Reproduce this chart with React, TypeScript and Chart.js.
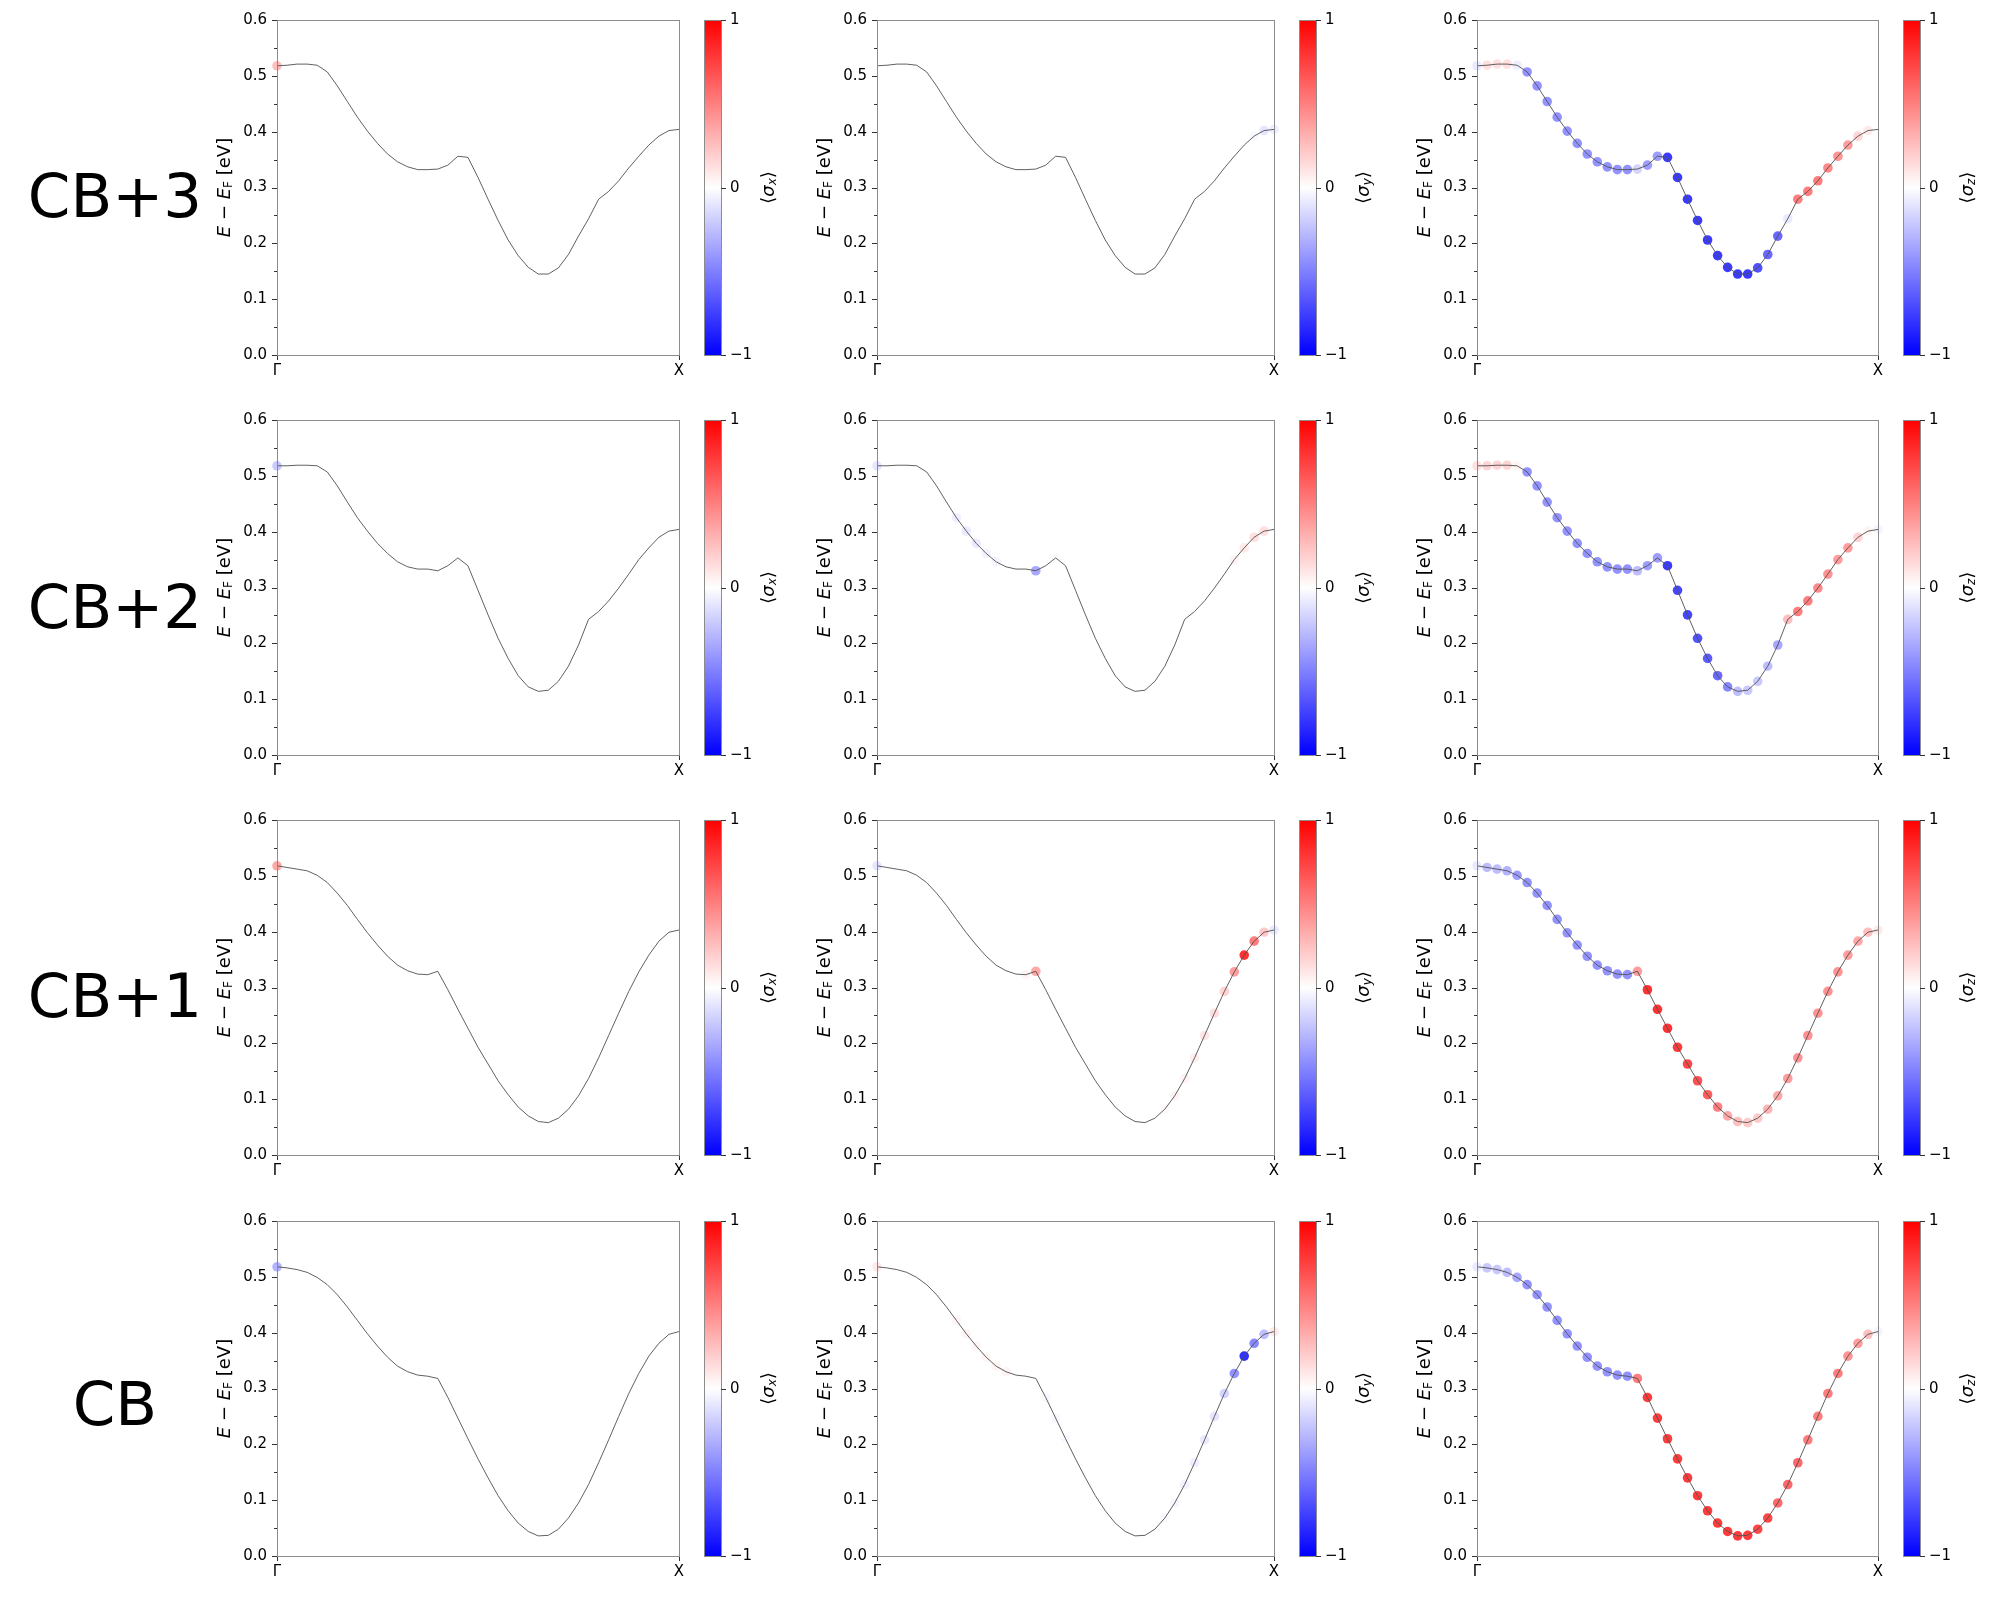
import React, { useEffect, useRef } from 'react';
import Chart from 'chart.js/auto';

// k-point index along the Γ–X path
const kPoints = [
  0, 1, 2, 3, 4, 5, 6, 7, 8, 9, 10, 11, 12, 13, 14, 15, 16, 17, 18, 19, 20,
  21, 22, 23, 24, 25, 26, 27, 28, 29, 30, 31, 32, 33, 34, 35, 36, 37, 38, 39, 40,
];
const xTickLabels = ['Γ', 'X'];
const yMajorTicks = [0, 0.1, 0.2, 0.3, 0.4, 0.5, 0.6];
const yMinorTicks = [0.05, 0.15, 0.25, 0.35, 0.45, 0.55];
const cbTicks = [1, 0, -1];
const rowLabels = ['CB+3', 'CB+2', 'CB+1', 'CB'];
const spinComps = ['x', 'y', 'z'];

// band energies E - E_F [eV]
const energyCB3 = [
  0.518, 0.519, 0.521, 0.521, 0.519, 0.507, 0.482, 0.454, 0.426, 0.401, 0.379,
  0.360, 0.346, 0.337, 0.332, 0.332, 0.333, 0.340, 0.356, 0.354, 0.318, 0.279,
  0.241, 0.206, 0.178, 0.157, 0.145, 0.145, 0.156, 0.180, 0.213, 0.244, 0.279,
  0.293, 0.312, 0.335, 0.356, 0.376, 0.392, 0.402, 0.404,
];
const energyCB2 = [
  0.518, 0.518, 0.519, 0.519, 0.518, 0.507, 0.482, 0.453, 0.425, 0.401, 0.379,
  0.361, 0.346, 0.337, 0.333, 0.333, 0.330, 0.339, 0.353, 0.339, 0.295, 0.251,
  0.209, 0.173, 0.142, 0.122, 0.114, 0.116, 0.132, 0.159, 0.197, 0.243, 0.257,
  0.276, 0.299, 0.324, 0.350, 0.371, 0.390, 0.401, 0.404,
];
const energyCB1 = [
  0.518, 0.515, 0.512, 0.509, 0.501, 0.488, 0.469, 0.447, 0.422, 0.398, 0.376,
  0.356, 0.340, 0.330, 0.324, 0.323, 0.329, 0.296, 0.261, 0.227, 0.193, 0.163,
  0.133, 0.108, 0.086, 0.070, 0.060, 0.058, 0.066, 0.082, 0.106, 0.137, 0.174,
  0.214, 0.254, 0.293, 0.328, 0.358, 0.383, 0.399, 0.403,
];
const energyCB = [
  0.518, 0.516, 0.513, 0.508, 0.499, 0.486, 0.468, 0.446, 0.422, 0.398, 0.376,
  0.356, 0.340, 0.330, 0.324, 0.322, 0.318, 0.284, 0.247, 0.210, 0.174, 0.140,
  0.108, 0.081, 0.059, 0.044, 0.036, 0.037, 0.048, 0.068, 0.095, 0.128, 0.167,
  0.208, 0.250, 0.291, 0.327, 0.358, 0.381, 0.397, 0.402,
];

// spin expectation values <σx>, <σy>, <σz> per k-point
const sxCB3 = [
  0.3, 0, 0, 0, 0, 0, 0, 0, 0, 0, 0, 0, 0, 0, 0, 0, 0, 0, 0, 0, 0,
  0, 0, 0, 0, 0, 0, 0, 0, 0, 0, 0, 0, 0, 0, 0, 0, 0, 0, 0, 0,
];
const syCB3 = [
  0, 0, 0, 0, 0, 0, 0, 0, 0, 0, 0, 0, 0, 0, 0, 0, 0, 0, 0, 0, 0,
  0, 0, 0, 0, 0, 0, 0, 0, 0, 0, 0, 0, 0, 0, 0, 0, 0, -0.03, -0.12, -0.08,
];
const szCB3 = [
  -0.1, 0.15, 0.15, 0.15, -0.08, -0.5, -0.5, -0.5, -0.5, -0.5, -0.5, -0.5,
  -0.5, -0.5, -0.5, -0.5, -0.2, -0.45, -0.45, -0.9, -0.9, -0.9, -0.9, -0.9,
  -0.9, -0.9, -0.9, -0.9, -0.8, -0.7, -0.7, -0.1, 0.6, 0.6, 0.6, 0.55, 0.5,
  0.45, 0.2, 0.1, 0.0,
];

const sxCB2 = [
  -0.25, 0, 0, 0, 0, 0, 0, 0, 0, 0, 0, 0, 0, 0, 0, 0, 0, 0, 0, 0, 0,
  0, 0, 0, 0, 0, 0, 0, 0, 0, 0, 0, 0, 0, 0, 0, 0, 0, 0, 0, 0,
];
const syCB2 = [
  -0.12, 0, 0, 0, 0, 0, 0, 0, -0.08, -0.1, -0.1, -0.06, -0.05, 0, 0, 0, -0.4,
  0, 0.02, 0, 0, 0, 0, 0, 0, 0, 0, 0, 0, 0, 0, 0, 0, 0, 0, 0, 0.05, 0.1, 0.15,
  0.15, 0,
];
const szCB2 = [
  0.15, 0.2, 0.2, 0.2, 0.05, -0.5, -0.5, -0.5, -0.5, -0.5, -0.5, -0.5, -0.5,
  -0.5, -0.5, -0.5, -0.3, -0.45, -0.45, -0.9, -0.85, -0.85, -0.8, -0.75, -0.7,
  -0.55, -0.3, -0.25, -0.25, -0.3, -0.4, 0.3, 0.6, 0.6, 0.55, 0.5, 0.45, 0.45,
  0.2, 0.05, -0.05,
];

const sxCB1 = [
  0.4, 0, 0, 0, 0, 0, 0, 0, 0, 0, 0, 0, 0, 0, 0, 0, 0, 0, 0, 0, 0,
  0, 0, 0, 0, 0, 0, 0, 0, 0, 0, 0, 0, 0, 0, 0, 0, 0, 0, 0, 0,
];
const syCB1 = [
  -0.12, 0, 0, 0, 0, 0, 0, 0, 0, 0, 0, 0, 0, 0, 0, 0.05, 0.4, 0, 0, 0, 0, 0,
  0, 0, 0, 0, 0, 0, 0, 0.03, 0.05, 0.06, 0.08, 0.12, 0.15, 0.2, 0.45, 0.95,
  0.6, 0.25, -0.1,
];
const szCB1 = [
  -0.1, -0.3, -0.3, -0.35, -0.45, -0.5, -0.5, -0.5, -0.5, -0.5, -0.5, -0.5,
  -0.5, -0.5, -0.5, -0.5, 0.45, 0.95, 0.95, 0.95, 0.9, 0.85, 0.8, 0.75, 0.6,
  0.4, 0.3, 0.25, 0.25, 0.35, 0.4, 0.45, 0.5, 0.5, 0.5, 0.5, 0.5, 0.45, 0.4,
  0.3, 0.1,
];

const sxCB = [
  -0.35, 0, 0, 0, 0, 0, 0, 0, 0, 0, 0, 0, 0, 0, 0, 0, 0, 0, 0, 0, 0,
  0, 0, 0, 0, 0, 0, 0, 0, 0, 0, 0, 0, 0, 0, 0, 0, 0, 0, 0, 0,
];
const syCB = [
  0.1, 0, 0, 0, 0, 0, 0, 0, 0.05, 0.05, 0.05, 0.05, 0.05, 0.05, 0, 0, 0,
  -0.03, -0.03, -0.03, 0, 0, 0, 0, 0, 0, 0, 0, 0, -0.03, -0.04, -0.06, -0.08,
  -0.1, -0.12, -0.2, -0.5, -0.95, -0.55, -0.3, 0.1,
];
const szCB = [
  -0.1, -0.25, -0.25, -0.3, -0.4, -0.5, -0.5, -0.5, -0.5, -0.5, -0.5, -0.5,
  -0.5, -0.5, -0.5, -0.5, 0.6, 0.9, 0.9, 0.9, 0.9, 0.9, 0.9, 0.9, 0.9, 0.9,
  0.9, 0.9, 0.85, 0.85, 0.7, 0.7, 0.7, 0.6, 0.6, 0.6, 0.6, 0.5, 0.45, 0.3,
  -0.05,
];

const rowEnergies = [energyCB3, energyCB2, energyCB1, energyCB];
const rowSpins = [
  [sxCB3, syCB3, szCB3],
  [sxCB2, syCB2, szCB2],
  [sxCB1, syCB1, szCB1],
  [sxCB, syCB, szCB],
];

// layout (page pixels)
const colLefts = [277, 877, 1477];
const colWidths = [402, 397, 401];
const rowTops = [20, 420, 820, 1221];
const rowLabelY = [195, 606, 995, 1403];
const axH = 335;
const padL = 130;
const padR = 120;
const padT = 20;
const padB = 40;

const FONT = '"DejaVu Sans", sans-serif';

// matplotlib 'bwr'
function bwr(v: number, alpha: number) {
  const t = (Math.max(-1, Math.min(1, v)) + 1) / 2;
  let r, g, b;
  if (t < 0.5) {
    r = g = Math.round(2 * t * 255);
    b = 255;
  } else {
    r = 255;
    g = b = Math.round((1 - t) * 2 * 255);
  }
  return `rgba(${r},${g},${b},${alpha})`;
}

type Part = { t: string; font: string; dy?: number };

function drawVertical(ctx: CanvasRenderingContext2D, parts: Part[], cx: number, cy: number) {
  let total = 0;
  parts.forEach(p => {
    ctx.font = p.font;
    total += ctx.measureText(p.t).width;
  });
  ctx.save();
  ctx.translate(cx, cy);
  ctx.rotate(-Math.PI / 2);
  ctx.textAlign = 'left';
  ctx.textBaseline = 'middle';
  ctx.fillStyle = '#000';
  let x = -total / 2;
  parts.forEach(p => {
    ctx.font = p.font;
    ctx.fillText(p.t, x, p.dy || 0);
    x += ctx.measureText(p.t).width;
  });
  ctx.restore();
}

const makeDecor = (comp: string) => ({
  id: 'decor',
  afterDraw(chart: any) {
    const { ctx, chartArea: a, scales } = chart;
    const xs = scales.x;
    const ys = scales.y;
    ctx.save();

    // tick marks
    ctx.strokeStyle = '#333';
    ctx.lineWidth = 1;
    ctx.beginPath();
    yMajorTicks.forEach(v => {
      const py = Math.round(ys.getPixelForValue(v)) + 0.5;
      ctx.moveTo(a.left - 5, py);
      ctx.lineTo(a.left, py);
    });
    yMinorTicks.forEach(v => {
      const py = Math.round(ys.getPixelForValue(v)) + 0.5;
      ctx.moveTo(a.left - 3, py);
      ctx.lineTo(a.left, py);
    });
    [kPoints[0], kPoints[kPoints.length - 1]].forEach(v => {
      const px = Math.round(xs.getPixelForValue(v)) + 0.5;
      ctx.moveTo(px, a.bottom);
      ctx.lineTo(px, a.bottom + 5);
    });
    ctx.stroke();

    // spines
    ctx.strokeStyle = '#8c8c8c';
    ctx.strokeRect(Math.round(a.left) + 0.5, Math.round(a.top) + 0.5,
      Math.round(a.right - a.left), Math.round(a.bottom - a.top));

    // y label
    drawVertical(ctx, [
      { t: 'E', font: `italic 18px ${FONT}` },
      { t: ' − ', font: `18px ${FONT}` },
      { t: 'E', font: `italic 18px ${FONT}` },
      { t: 'F', font: `12px ${FONT}`, dy: 4 },
      { t: ' [eV]', font: `18px ${FONT}` },
    ], a.left - 52, (a.top + a.bottom) / 2);

    // colour bar
    const cbL = Math.round(a.right) + 25;
    const cbW = 17;
    const cbT = Math.round(a.top);
    const cbB = Math.round(a.bottom);
    const grad = ctx.createLinearGradient(0, cbT, 0, cbB);
    grad.addColorStop(0, 'rgb(255,0,0)');
    grad.addColorStop(0.5, 'rgb(255,255,255)');
    grad.addColorStop(1, 'rgb(0,0,255)');
    ctx.fillStyle = grad;
    ctx.fillRect(cbL, cbT, cbW, cbB - cbT);
    ctx.strokeStyle = '#8c8c8c';
    ctx.strokeRect(cbL + 0.5, cbT + 0.5, cbW, cbB - cbT);

    ctx.strokeStyle = '#333';
    ctx.fillStyle = '#000';
    ctx.font = `15px ${FONT}`;
    ctx.textAlign = 'left';
    ctx.textBaseline = 'middle';
    ctx.beginPath();
    cbTicks.forEach(v => {
      const py = Math.round(cbT + ((1 - v) / 2) * (cbB - cbT)) + 0.5;
      ctx.moveTo(cbL + cbW, py);
      ctx.lineTo(cbL + cbW + 5, py);
      ctx.fillText(v < 0 ? `−${Math.abs(v)}` : `${v}`, cbL + cbW + 9, py);
    });
    ctx.stroke();

    drawVertical(ctx, [
      { t: '⟨', font: `18px ${FONT}` },
      { t: 'σ', font: `italic 18px ${FONT}` },
      { t: comp, font: `italic 12px ${FONT}`, dy: 4 },
      { t: '⟩', font: `18px ${FONT}` },
    ], cbL + cbW + 48, (cbT + cbB) / 2);

    ctx.restore();
  },
});

interface PanelProps {
  energy: number[];
  spin: number[];
  comp: string;
  left: number;
  top: number;
  width: number;
}

const Panel: React.FC<PanelProps> = ({ energy, spin, comp, left, top, width }) => {
  const canvasRef = useRef<HTMLCanvasElement | null>(null);

  useEffect(() => {
    if (!canvasRef.current) return;
    const pts = kPoints.map((k, i) => ({ x: k, y: energy[i] }));
    const tickFont = { family: FONT, size: 15 };
    const chart = new Chart(canvasRef.current, {
      type: 'scatter',
      data: {
        datasets: [
          {
            data: pts,
            showLine: true,
            borderColor: 'rgba(80,80,80,0.9)',
            borderWidth: 1,
            pointRadius: 0,
            clip: false,
          },
          {
            data: pts,
            backgroundColor: spin.map(v => bwr(v, 0.85)),
            pointRadius: 4.8,
            borderWidth: 0,
            clip: false,
          },
        ],
      } as any,
      options: {
        responsive: false,
        animation: false,
        events: [],
        layout: { padding: { left: 0, top: padT, right: padR, bottom: 0 } },
        plugins: { legend: { display: false }, tooltip: { enabled: false } },
        scales: {
          x: {
            type: 'linear',
            min: kPoints[0],
            max: kPoints[kPoints.length - 1],
            grid: { display: false, drawTicks: false },
            border: { display: false },
            afterBuildTicks: (s: any) => {
              s.ticks = [{ value: kPoints[0] }, { value: kPoints[kPoints.length - 1] }];
            },
            afterFit: (s: any) => {
              s.height = padB;
            },
            ticks: {
              autoSkip: false,
              maxRotation: 0,
              padding: 7,
              color: '#000',
              font: tickFont,
              callback: (v: any) => (v === kPoints[0] ? xTickLabels[0] : xTickLabels[1]),
            },
          },
          y: {
            min: 0,
            max: 0.6,
            grid: { display: false, drawTicks: false },
            border: { display: false },
            afterFit: (s: any) => {
              s.width = padL;
            },
            ticks: {
              stepSize: 0.1,
              padding: 10,
              color: '#000',
              font: tickFont,
              callback: (v: any) => Number(v).toFixed(1),
            },
          },
        },
      } as any,
      plugins: [makeDecor(comp)],
    });
    return () => {
      chart.destroy();
    };
  }, [energy, spin, comp]);

  return (
    <canvas
      ref={canvasRef}
      width={padL + width + padR}
      height={padT + axH + padB}
      style={{ position: 'absolute', left: left - padL, top: top - padT }}
    />
  );
};

const App: React.FC = () => {
  return (
    <div style={{ position: 'relative', width: 2000, height: 1600, background: '#fff' }}>
      <style>{'body{margin:0;background:#fff}'}</style>
      {rowLabels.map((lbl, r) => (
        <div
          key={lbl}
          style={{
            position: 'absolute',
            left: 15,
            width: 200,
            top: rowLabelY[r] - 30,
            textAlign: 'center',
            fontFamily: FONT,
            fontSize: 61,
            lineHeight: 1,
            color: '#000',
          }}
        >
          {lbl}
        </div>
      ))}
      {rowEnergies.map((energy, r) =>
        spinComps.map((comp, c) => (
          <Panel
            key={`${r}-${c}`}
            energy={energy}
            spin={rowSpins[r][c]}
            comp={comp}
            left={colLefts[c]}
            top={rowTops[r]}
            width={colWidths[c]}
          />
        )),
      )}
    </div>
  );
};

export default App;
